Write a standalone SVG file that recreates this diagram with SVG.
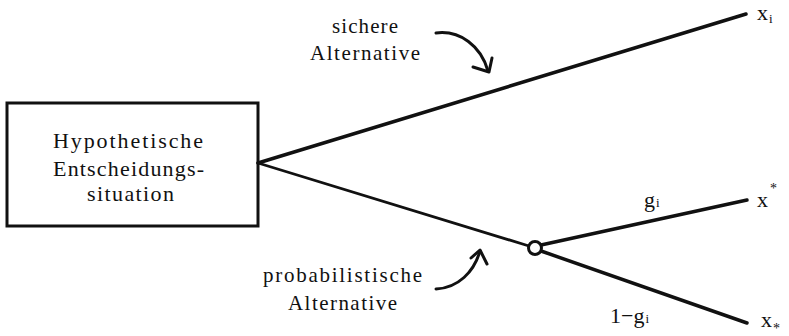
<svg xmlns="http://www.w3.org/2000/svg" width="789" height="336" viewBox="0 0 789 336" font-family="'Liberation Serif', 'Times New Roman', Times, serif">
  <style>
    text { font-family: 'Liberation Serif', 'Times New Roman', Times, serif; fill: #111; }
    .t { font-size: 22px; }
    .lbl { font-size: 21px; }
    .sub { font-size: 13px; }
    .star { font-size: 14px; }
    .edge { stroke: #111; fill: none; stroke-linecap: round; }
    .pointer { stroke: #111; fill: none; stroke-width: 3; stroke-linecap: round; stroke-linejoin: round; }
  </style>
  <rect width="789" height="336" fill="#fff"/>

  <!-- decision situation -->
  <g id="situation">
    <rect x="7" y="103" width="251" height="123" fill="#fff" stroke="#111" stroke-width="3"/>
    <text class="t" x="53" y="148" textLength="150" lengthAdjust="spacing">Hypothetische</text>
    <text class="t" x="53" y="176" textLength="151" lengthAdjust="spacing">Entscheidungs-</text>
    <text class="t" x="87" y="201" textLength="87" lengthAdjust="spacing">situation</text>
  </g>

  <!-- branches -->
  <g id="connectors">
    <line class="edge" x1="258" y1="163" x2="746" y2="14" stroke-width="3.5"/>
    <line class="edge" x1="258" y1="163" x2="529" y2="246" stroke-width="2.8"/>
    <line class="edge" x1="541" y1="245" x2="747" y2="200" stroke-width="3.5"/>
    <line class="edge" x1="541" y1="251" x2="747" y2="323" stroke-width="3.5"/>
  </g>

  <!-- chance node -->
  <g id="chance">
    <circle cx="535" cy="248" r="6.5" fill="#fff" stroke="#111" stroke-width="3"/>
  </g>

  <!-- outcomes -->
  <g id="outcome-xi">
    <text class="t" x="757" y="20">x<tspan class="sub" dx="1" dy="3">i</tspan></text>
  </g>
  <g id="outcome-xstar-up">
    <text class="t" x="757" y="207">x<tspan class="star" dx="2" dy="-14">*</tspan></text>
  </g>
  <g id="outcome-xstar-down">
    <text class="t" x="761" y="327">x<tspan class="star" dx="1" dy="6">*</tspan></text>
  </g>

  <!-- probability labels -->
  <g id="prob-g">
    <text class="t" x="644" y="207">g<tspan class="sub" dx="1">i</tspan></text>
  </g>
  <g id="prob-1-g">
    <text class="t" x="610" y="323">1−g<tspan class="sub" dx="1">i</tspan></text>
  </g>

  <!-- alternative labels with pointers -->
  <g id="label-sicher">
    <text class="lbl" x="332" y="33" textLength="66" lengthAdjust="spacing">sichere</text>
    <text class="lbl" x="310" y="60" textLength="110" lengthAdjust="spacing">Alternative</text>
    <path class="pointer" d="M436,33 C460,30 481,46 488,71"/>
    <path class="pointer" d="M473,67 L489,72 L492,58"/>
  </g>
  <g id="label-probabilistisch">
    <text class="lbl" x="263" y="282" textLength="159" lengthAdjust="spacing">probabilistische</text>
    <text class="lbl" x="288" y="310" textLength="109" lengthAdjust="spacing">Alternative</text>
    <path class="pointer" d="M436,289 C458,288 474,272 480,251"/>
    <path class="pointer" d="M471,258 L480,250 L487,264"/>
  </g>
</svg>
